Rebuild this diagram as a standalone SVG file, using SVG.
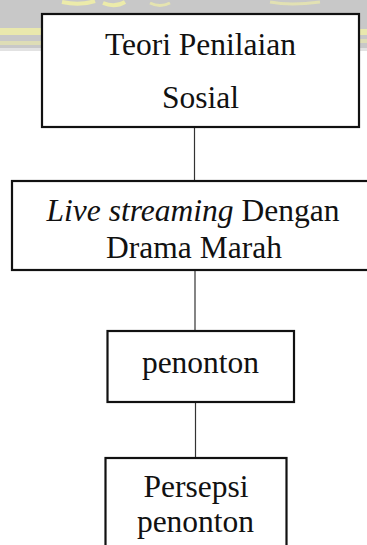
<svg xmlns="http://www.w3.org/2000/svg" width="367" height="545" viewBox="0 0 367 545">
  <style>
    .box { fill: #ffffff; stroke: #111111; stroke-width: 2.2; }
    .lbl { font-family: "Liberation Serif", "Times New Roman", serif; font-size: 31.5px; fill: #111111; text-anchor: middle; }
    .conn line { stroke: #333333; stroke-width: 1.2; }
    .ylw { fill: #ecebaa; }
  </style>
  <g id="watermark">
    <path d="M0 0 H367 V48 H0 Z" fill="#c8c8c8"/>
    <path d="M0 48 H367 V51 H0 Z" fill="#e2e2e2"/>
    <rect class="ylw" x="0" y="28" width="44" height="7" opacity="0.9"/>
    <rect class="ylw" x="0" y="41" width="44" height="4" opacity="0.6"/>
    <rect class="ylw" x="359" y="29" width="8" height="6" opacity="0.9"/>
    <rect class="ylw" x="359" y="39" width="8" height="4" opacity="0.6"/>
    <path d="M62 2 Q80 6 95 1" fill="none" stroke="#ecebaa" stroke-width="4"/>
    <path d="M103 3 Q115 8 125 2" fill="none" stroke="#ecebaa" stroke-width="4"/>
    <path d="M150 3 Q160 8 170 3" fill="none" stroke="#ecebaa" stroke-width="3" opacity="0.8"/>
    <path d="M270 2 Q290 6 320 2" fill="none" stroke="#ecebaa" stroke-width="3" opacity="0.7"/>
  </g>
  <g id="connectors" class="conn">
    <line x1="194.5" y1="127" x2="194.5" y2="181"/>
    <line x1="195" y1="270" x2="195" y2="331"/>
    <line x1="195.5" y1="402" x2="195.5" y2="458"/>
  </g>
  <g id="node-teori">
    <rect class="box" x="42" y="14" width="317" height="113"/>
    <text class="lbl" x="200.5" y="55">Teori Penilaian</text>
    <text class="lbl" x="200.5" y="108">Sosial</text>
  </g>
  <g id="node-live">
    <rect class="box" x="12" y="181" width="370" height="89"/>
    <text class="lbl" x="193" y="221"><tspan font-style="italic">Live streaming</tspan> Dengan</text>
    <text class="lbl" x="194" y="258">Drama Marah</text>
  </g>
  <g id="node-penonton">
    <rect class="box" x="107.5" y="331" width="186.5" height="71"/>
    <text class="lbl" x="200.5" y="373">penonton</text>
  </g>
  <g id="node-persepsi">
    <rect class="box" x="105.5" y="458" width="181" height="100"/>
    <text class="lbl" x="196" y="497">Persepsi</text>
    <text class="lbl" x="195.5" y="532">penonton</text>
  </g>
</svg>
